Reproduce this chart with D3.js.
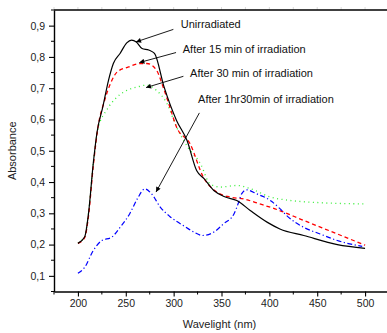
<!DOCTYPE html>
<html>
<head>
<meta charset="utf-8">
<script src="https://cdn.jsdelivr.net/npm/d3@7"></script>
<style>
  body { margin: 0; background: #fff; }
  svg { display: block; font-family: "Liberation Sans", Arial, sans-serif; }
</style>
</head>
<body>
<svg id="chart"></svg>
<script>
// Wavelength (nm) and absorbance
const wlUnirr = [200, 207, 211, 216, 220, 226, 232, 237, 244, 251, 256, 261, 267, 274, 280, 290, 303, 314, 324, 332, 342, 354, 366, 380, 398, 411, 436, 471, 500];
const absUnirr = [0.204, 0.224, 0.298, 0.459, 0.56, 0.64, 0.726, 0.779, 0.811, 0.845, 0.854, 0.848, 0.827, 0.822, 0.811, 0.704, 0.597, 0.533, 0.437, 0.41, 0.373, 0.352, 0.341, 0.309, 0.271, 0.25, 0.229, 0.20, 0.188];

const wl15 = [200, 207, 211, 216, 221, 228, 234, 241, 253, 265, 272, 282, 289, 296, 303, 317, 331, 345, 359, 373, 390, 408, 436, 471, 500];
const abs15 = [0.204, 0.222, 0.29, 0.45, 0.576, 0.662, 0.715, 0.752, 0.768, 0.779, 0.779, 0.758, 0.704, 0.64, 0.576, 0.523, 0.416, 0.368, 0.352, 0.346, 0.33, 0.312, 0.277, 0.234, 0.198];

const wl30 = [200, 207, 211, 216, 221, 230, 241, 251, 262, 272, 282, 293, 303, 315, 328, 338, 349, 366, 380, 401, 422, 453, 500];
const abs30 = [0.206, 0.226, 0.3, 0.46, 0.57, 0.63, 0.672, 0.693, 0.704, 0.71, 0.693, 0.651, 0.576, 0.51, 0.459, 0.394, 0.384, 0.389, 0.379, 0.352, 0.341, 0.334, 0.33];

const wl90 = [200, 207, 216, 225, 235, 244, 254, 262, 270, 277, 286, 296, 310, 321, 330, 342, 352, 363, 368, 371, 376, 387, 401, 411, 418, 436, 453, 471, 497];
const abs90 = [0.108, 0.127, 0.181, 0.213, 0.223, 0.255, 0.298, 0.346, 0.378, 0.362, 0.32, 0.29, 0.261, 0.24, 0.229, 0.24, 0.266, 0.298, 0.336, 0.362, 0.375, 0.362, 0.341, 0.315, 0.293, 0.255, 0.234, 0.213, 0.194];

const seriesNames = ["Unirradiated", "After 15 min of irradiation", "After 30 min of irradiation", "After 1hr30min of irradiation"];
const xTicks = [200, 250, 300, 350, 400, 450, 500];
const yTicks = [0.1, 0.2, 0.3, 0.4, 0.5, 0.6, 0.7, 0.8, 0.9];

// label anchor and arrow (tail -> head) in data units
const labelPos = [[307.4, 0.892], [309.5, 0.812], [317.2, 0.735], [325.5, 0.652]];
const arrowTail = [[299.7, 0.888], [302.5, 0.814], [310.2, 0.738], [326.9, 0.621]];
const arrowHead = [[260.7, 0.848], [264.2, 0.782], [271.2, 0.702], [281.6, 0.368]];

const W = 387, H = 333;
const margin = {top: 10, left: 54, bottom: 42};

const svg = d3.select('#chart').attr('width', W).attr('height', H);

const x = d3.scaleLinear().domain([175, 525]).range([margin.left, 389]);
const y = d3.scaleLinear().domain([0.05, 0.95]).range([H - margin.bottom + 0.5, margin.top]);

const fmt = d => d3.format('.1f')(d).replace('.', ',');

// minor ticks
const xMinor = d3.range(175, 526, 25).filter(v => !xTicks.includes(v));
const yMinor = d3.range(0.05, 0.96, 0.1).map(v => +v.toFixed(2));

const axG = svg.append('g');

// faint ticks on the top edge
axG.selectAll('.topTick')
    .data(d3.range(175, 526, 25))
    .join('line')
    .attr('x1', d => x(d)).attr('x2', d => x(d))
    .attr('y1', y(0.95)).attr('y2', y(0.95) - 3)
    .attr('stroke', '#d0d0d0').attr('stroke-width', 0.8);

// bottom axis
const xAxis = d3.axisBottom(x).tickValues(xTicks).tickSize(5).tickSizeOuter(0).tickPadding(3);
const xAxisG = axG.append('g')
    .attr('transform', `translate(0,${y(0.05)})`)
    .call(xAxis);
xAxisG.selectAll('.tick line').attr('stroke-width', 1.1);
xAxisG.selectAll('text').attr('font-size', 10.5).attr('fill', '#222').attr('font-family', '"Liberation Sans", Arial, sans-serif');
xAxisG.select('.domain').attr('stroke-width', 1.4);
xAxisG.selectAll('.minor')
    .data(xMinor)
    .join('line')
    .attr('class', 'minor')
    .attr('x1', d => x(d)).attr('x2', d => x(d))
    .attr('y1', 0).attr('y2', 3)
    .attr('stroke', '#000').attr('stroke-width', 1);

// left axis
const yAxis = d3.axisLeft(y).tickValues(yTicks).tickFormat(fmt).tickSize(5).tickSizeOuter(0).tickPadding(4);
const yAxisG = axG.append('g')
    .attr('transform', `translate(${x(175)},0)`)
    .call(yAxis);
yAxisG.selectAll('.tick line').attr('stroke-width', 1.1);
yAxisG.selectAll('text').attr('font-size', 10.5).attr('fill', '#222').attr('font-family', '"Liberation Sans", Arial, sans-serif');
yAxisG.select('.domain').attr('stroke-width', 1.4);
yAxisG.selectAll('.minor')
    .data(yMinor)
    .join('line')
    .attr('class', 'minor')
    .attr('x1', -3).attr('x2', 0)
    .attr('y1', d => y(d)).attr('y2', d => y(d))
    .attr('stroke', '#000').attr('stroke-width', 1);

// top frame line
axG.append('line')
    .attr('x1', x(175)).attr('x2', x(525))
    .attr('y1', y(0.95)).attr('y2', y(0.95))
    .attr('stroke', '#000').attr('stroke-width', 1.4);

// axis titles
svg.append('text')
    .attr('x', (x(175) + x(525)) / 2 - 2)
    .attr('y', 328)
    .attr('text-anchor', 'middle')
    .attr('font-size', 11)
    .attr('fill', '#222')
    .text('Wavelight (nm)');

svg.append('text')
    .attr('transform', `translate(16,${(y(0.05) + y(0.95)) / 2}) rotate(-90)`)
    .attr('text-anchor', 'middle')
    .attr('font-size', 11)
    .attr('fill', '#222')
    .text('Absorbance');

// curves
const series = [
    {xs: wlUnirr, ys: absUnirr, color: '#000000', dash: null, w: 1.2},
    {xs: wl15, ys: abs15, color: '#ff0000', dash: '4,3', w: 1.3},
    {xs: wl30, ys: abs30, color: '#33ee33', dash: '1,3.5', w: 1.3},
    {xs: wl90, ys: abs90, color: '#0000ff', dash: '5,2.5,1.2,2.5', w: 1.2}
];

const line = d3.line()
    .x(d => x(d[0]))
    .y(d => y(d[1]))
    .curve(d3.curveMonotoneX);

const plotG = svg.append('g');
// draw back to front so black is on top
[2, 1, 3, 0].forEach(i => {
    const s = series[i];
    plotG.append('path')
        .datum(d3.zip(s.xs, s.ys))
        .attr('d', line)
        .attr('fill', 'none')
        .attr('stroke', s.color)
        .attr('stroke-width', s.w)
        .attr('stroke-dasharray', s.dash);
});

// arrows
svg.append('defs').append('marker')
    .attr('id', 'ah')
    .attr('viewBox', '0 0 10 10')
    .attr('refX', 10).attr('refY', 5)
    .attr('markerWidth', 7).attr('markerHeight', 5)
    .attr('markerUnits', 'userSpaceOnUse')
    .attr('orient', 'auto')
    .append('path')
    .attr('d', 'M0,0L10,5L0,10Z')
    .attr('fill', '#000');

const annG = svg.append('g');
seriesNames.forEach((name, i) => {
    annG.append('line')
        .attr('x1', x(arrowTail[i][0])).attr('y1', y(arrowTail[i][1]))
        .attr('x2', x(arrowHead[i][0])).attr('y2', y(arrowHead[i][1]))
        .attr('stroke', '#000').attr('stroke-width', 0.9)
        .attr('marker-end', 'url(#ah)');
    annG.append('text')
        .attr('x', x(labelPos[i][0]))
        .attr('y', y(labelPos[i][1]))
        .attr('font-size', 11)
        .attr('fill', '#111')
        .text(name);
});
</script>
</body>
</html>
